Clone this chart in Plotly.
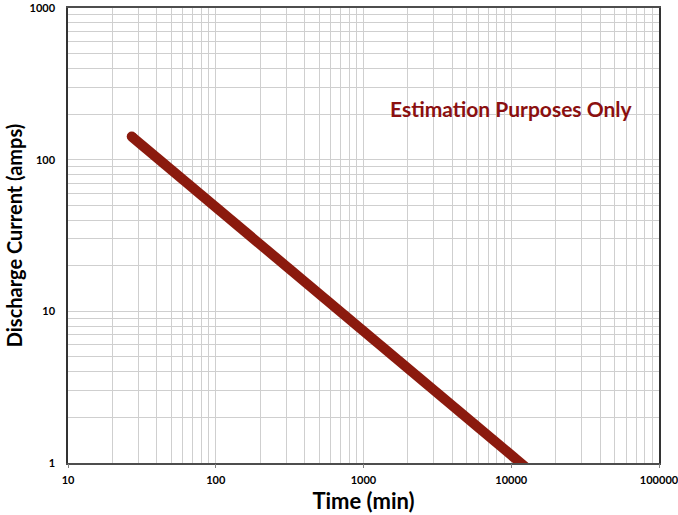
import plotly.graph_objects as go

time_min = [27, 100, 1000, 10000, 13000]
current_amps = [142, 48.8, 7.44, 1.13, 0.91]

x_major = [10, 100, 1000, 10000, 100000]
x_major_text = ["10", "100", "1000", "10000", "100000"]
y_major = [1, 10, 100, 1000]
y_major_text = ["1", "10", "100", "1000"]
minor_digits = [2, 3, 4, 5, 6, 7, 8, 9]

line_color = "#8B1A0E"
font_family = "Lato, 'Open Sans', sans-serif"


def grid_ticks(majors, labels):
    vals, texts = [], []
    for m, lab in zip(majors, labels):
        vals.append(m)
        texts.append("<b>" + lab + "</b>")
        if m != majors[-1]:
            for d in minor_digits:
                vals.append(m * d)
                texts.append("")
    return vals, texts


xv, xt = grid_ticks(x_major, x_major_text)
yv, yt = grid_ticks(y_major, y_major_text)

fig = go.Figure()
fig.add_trace(go.Scatter(
    x=time_min, y=current_amps, mode="lines+markers",
    line=dict(color=line_color, width=10),
    marker=dict(color=line_color, size=[10, 0, 0, 0, 0], line=dict(width=0), opacity=1),
    showlegend=False, hoverinfo="skip",
))
# invisible trace to activate the major-tick overlay axis
fig.add_trace(go.Scatter(
    x=[x_major[0], x_major[-1]], y=[y_major[0], y_major[-1]], xaxis="x2",
    mode="lines", line=dict(width=0), showlegend=False, hoverinfo="skip",
))

fig.add_annotation(
    x=4.0, y=2.34, xref="x", yref="y",
    text="<b>Estimation Purposes Only</b>", showarrow=False,
    font=dict(family=font_family, size=21, color="#8B1010"),
)

fig.update_layout(
    width=678, height=515,
    margin=dict(l=68, r=19, t=8, b=52),
    paper_bgcolor="white", plot_bgcolor="white",
    font=dict(family=font_family, color="black"),
    xaxis2=dict(
        type="log", range=[1, 5], overlaying="x", side="bottom",
        tickvals=x_major, showticklabels=False, showgrid=False,
        ticks="outside", ticklen=4, tickcolor="#7f7f7f", tickwidth=1,
        showline=False, zeroline=False, automargin=False,
    ),
)
fig.layout.xaxis.update(
    type="log", range=[1, 5], automargin=False,
    tickvals=xv, ticktext=xt, ticklabeloverflow="allow", ticklabelstandoff=6,
    tickfont=dict(size=11, family=font_family, color="black"),
    title=dict(text="<b>Time (min)</b>", font=dict(size=22), standoff=8),
    showline=True, linecolor="#4d4d4d", linewidth=2, mirror=True,
    showgrid=True, gridcolor="#cfcfcf", gridwidth=1,
    ticks="", zeroline=False,
)
fig.layout.yaxis.update(
    type="log", range=[0, 3], automargin=False,
    tickvals=yv, ticktext=yt, ticklabeloverflow="allow", ticklabelstandoff=9,
    tickfont=dict(size=11, family=font_family, color="black"),
    title=dict(text="<b>Discharge Current (amps)</b>", font=dict(size=20), standoff=2),
    showline=True, linecolor="#333333", linewidth=1.5, mirror=True,
    showgrid=True, gridcolor="#cfcfcf", gridwidth=1,
    ticks="", zeroline=False,
)

fig.write_html("out.html", config={"displayModeBar": False},
               post_script="document.body.style.margin='0';")
